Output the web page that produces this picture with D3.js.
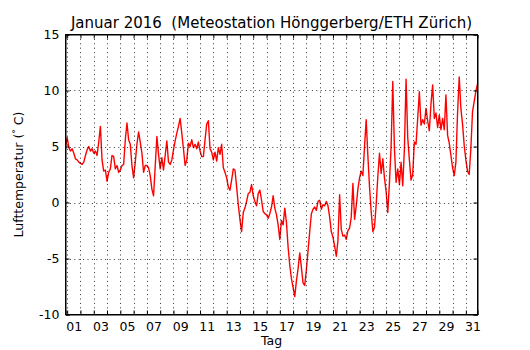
<!DOCTYPE html>
<html>
<head>
<meta charset="utf-8">
<script src="https://cdn.jsdelivr.net/npm/d3@7"></script>
<style>
  body { margin: 0; background: #fff; }
  text { font-family: "DejaVu Sans", sans-serif; fill: #000; }
</style>
</head>
<body>
<div id="chart"></div>
<script>
// 3-hourly air temperature, starting 31.12.2015 21:00
var startTime = Date.UTC(2015, 11, 31, 21);
var stepHours = 3;

var temps = [
    5.0,
    5.8, 4.9, 4.6, 4.8, 4.4, 3.9, 3.8, 3.6,       // 01
    3.5, 3.4, 3.6, 4.2, 4.7, 5.0, 4.6, 4.8,       // 02
    4.4, 4.6, 4.2, 5.4, 6.8, 3.8, 2.8, 2.9,       // 03
    1.9, 2.7, 3.0, 4.2, 4.1, 3.0, 3.3, 2.7,       // 04
    2.9, 3.3, 3.4, 5.6, 7.1, 5.6, 5.2, 3.3,       // 05
    2.2, 3.6, 5.2, 6.3, 5.4, 4.4, 2.7, 3.3,       // 06
    3.3, 3.1, 2.4, 1.2, 0.6, 3.2, 5.9, 4.3,       // 07
    3.0, 4.0, 2.9, 4.2, 5.5, 3.6, 3.4, 3.8,       // 08
    4.7, 5.5, 6.2, 6.8, 7.5, 6.2, 4.8, 3.3,       // 09
    3.8, 5.3, 5.0, 5.6, 4.9, 5.2, 4.8, 5.4,       // 10
    4.6, 4.1, 4.1, 5.6, 7.0, 7.3, 4.8, 4.5,       // 11
    3.8, 4.5, 3.7, 4.9, 4.3, 5.2, 3.1, 2.7,       // 12
    2.2, 1.4, 1.1, 2.0, 3.0, 2.9, 1.4, -0.2,      // 13
    -1.5, -2.6, -0.9, -0.5, 0.1, 0.8, 0.9, 1.6,   // 14
    0.6, 0.1, -0.3, 0.8, 1.1, 0.2, -0.8, -1.0,    // 15
    -1.1, -1.4, -1.0, -0.4, 0.6, -0.5, -1.1, -2.0, // 16
    -3.3, -1.6, -2.0, -0.5, -1.8, -4.0, -5.6, -6.8, // 17
    -7.6, -8.4, -7.0, -5.9, -4.5, -5.8, -7.2, -7.4, // 18
    -6.0, -4.3, -2.6, -1.0, -0.6, -0.4, -0.7, 0.1, // 19
    0.2, -0.6, -0.2, -0.3, 0.1, -0.3, -1.3, -2.6, // 20
    -3.1, -3.9, -4.8, -3.4, 0.7, -2.4, -3.0, -2.9, // 21
    -3.3, -2.5, -2.3, -1.3, 1.7, -1.5, -0.3, 1.2, // 22
    2.2, 2.8, 2.4, 5.0, 7.4, 4.2, 1.4, -0.8,      // 23
    -2.6, -2.2, -0.2, 2.3, 4.4, 2.6, 3.9, 2.2,    // 24
    1.0, -0.9, 1.8, 5.0, 10.8, 4.8, 1.8, 3.0,     // 25
    1.6, 3.6, 1.5, 4.8, 11.0, 5.8, 3.8, 2.0,      // 26
    2.5, 5.4, 5.2, 7.5, 9.9, 6.9, 7.4, 7.0,       // 27
    8.4, 7.3, 6.4, 8.8, 10.5, 7.5, 8.0, 6.7,      // 28
    7.8, 6.5, 7.5, 6.5, 9.6, 6.0, 5.3, 4.2,       // 29
    3.1, 2.4, 3.6, 8.0, 11.2, 8.4, 7.0, 5.1,      // 30
    3.8, 2.8, 2.5, 4.8, 8.1, 9.0, 9.9, 10.6       // 31
];

var dayLabels = ["01", "03", "05", "07", "09", "11", "13", "15",
                 "17", "19", "21", "23", "25", "27", "29", "31"];
var yTicks = [-10, -5, 0, 5, 10, 15];

var data = temps.map(function(t, i) {
    return {time: new Date(startTime + i * stepHours * 3600000), temp: t};
});

var width = 530, height = 350;
var plot = {left: 65.5, right: 477.5, top: 34.5, bottom: 314.5};

var svg = d3.select("#chart")
    .append("svg")
        .attr("width", width)
        .attr("height", height);

var x = d3.scaleUtc()
    .domain([new Date(startTime), new Date(startTime + 31 * 24 * 3600000)])
    .range([plot.left, plot.right]);

var y = d3.scaleLinear()
    .domain([-10, 15])
    .range([plot.bottom, plot.top]);

// midnight of each day inside the plot
var dayTicks = d3.utcDay.range(x.domain()[0], x.domain()[1]).filter(function(d) {
    return d > x.domain()[0];
});

// the line
svg.append("clipPath").attr("id", "clip")
    .append("rect")
    .attr("x", plot.left).attr("y", plot.top)
    .attr("width", plot.right - plot.left).attr("height", plot.bottom - plot.top);

var line = d3.line()
    .x(function(d) { return x(d.time); })
    .y(function(d) { return y(d.temp); });

svg.append("path")
    .datum(data)
    .attr("clip-path", "url(#clip)")
    .attr("fill", "none")
    .attr("stroke", "#ff0000")
    .attr("stroke-width", 1.4)
    .attr("stroke-linejoin", "round")
    .attr("d", line);

// dotted grid
var grid = svg.append("g")
    .attr("stroke", "#000")
    .attr("stroke-width", 0.8)
    .attr("stroke-dasharray", "1,3.4");

grid.selectAll(".vgrid")
    .data(dayTicks)
    .enter().append("line")
        .attr("x1", function(d) { return Math.round(x(d)) + 0.5; })
        .attr("x2", function(d) { return Math.round(x(d)) + 0.5; })
        .attr("y1", plot.top)
        .attr("y2", plot.bottom);

grid.selectAll(".hgrid")
    .data(yTicks.slice(1, -1))
    .enter().append("line")
        .attr("x1", plot.left)
        .attr("x2", plot.right)
        .attr("y1", function(d) { return Math.round(y(d)) + 0.5; })
        .attr("y2", function(d) { return Math.round(y(d)) + 0.5; });

// ticks (inward) on all four sides
function fmt(d) { return d < 0 ? "-" + Math.abs(d) : String(d); }

svg.append("g")
    .attr("transform", "translate(0," + plot.bottom + ")")
    .call(d3.axisBottom(x).tickValues(dayTicks).tickSize(-4).tickFormat(""));

svg.append("g")
    .attr("transform", "translate(0," + plot.top + ")")
    .call(d3.axisTop(x).tickValues(dayTicks).tickSize(-4).tickFormat(""));

svg.append("g")
    .attr("transform", "translate(" + plot.left + ",0)")
    .call(d3.axisLeft(y).tickValues(yTicks).tickSize(-4).tickPadding(6).tickFormat(fmt));

svg.append("g")
    .attr("transform", "translate(" + plot.right + ",0)")
    .call(d3.axisRight(y).tickValues(yTicks).tickSize(-4).tickFormat(""));

// day labels at noon
var labelDates = dayLabels.map(function(d) { return new Date(Date.UTC(2016, 0, +d, 12)); });
var xLabels = svg.append("g")
    .attr("transform", "translate(0," + plot.bottom + ")")
    .call(d3.axisBottom(x).tickValues(labelDates).tickSize(0).tickPadding(7.5)
        .tickFormat(function(d, i) { return dayLabels[i]; }));
xLabels.select(".domain").remove();

svg.selectAll(".tick text")
    .attr("font-family", "DejaVu Sans, sans-serif")
    .attr("font-size", 12.5)
    .attr("fill", "#000");
svg.selectAll(".tick line").attr("stroke", "#000");
svg.selectAll(".domain").attr("stroke", "#000");

// frame
svg.append("rect")
    .attr("x", plot.left).attr("y", plot.top)
    .attr("width", plot.right - plot.left).attr("height", plot.bottom - plot.top)
    .attr("fill", "none")
    .attr("stroke", "#000")
    .attr("stroke-width", 1);

// title and axis titles
svg.append("text")
    .attr("x", (plot.left + plot.right) / 2)
    .attr("y", 28)
    .attr("text-anchor", "middle")
    .style("font-size", "15px")
    .style("white-space", "pre")
    .text("Januar 2016  (Meteostation Hönggerberg/ETH Zürich)");

svg.append("text")
    .attr("x", (plot.left + plot.right) / 2)
    .attr("y", 344.5)
    .attr("text-anchor", "middle")
    .style("font-size", "12.5px")
    .text("Tag");

var ylab = svg.append("text")
    .attr("transform", "translate(23," + (plot.top + plot.bottom) / 2 + ") rotate(-90)")
    .attr("text-anchor", "middle")
    .style("font-size", "12.5px");
ylab.append("tspan").text("Lufttemperatur (");
ylab.append("tspan").attr("dy", -4).style("font-size", "9px").text("°");
ylab.append("tspan").attr("dy", 4).text(" C)");
</script>
</body>
</html>
